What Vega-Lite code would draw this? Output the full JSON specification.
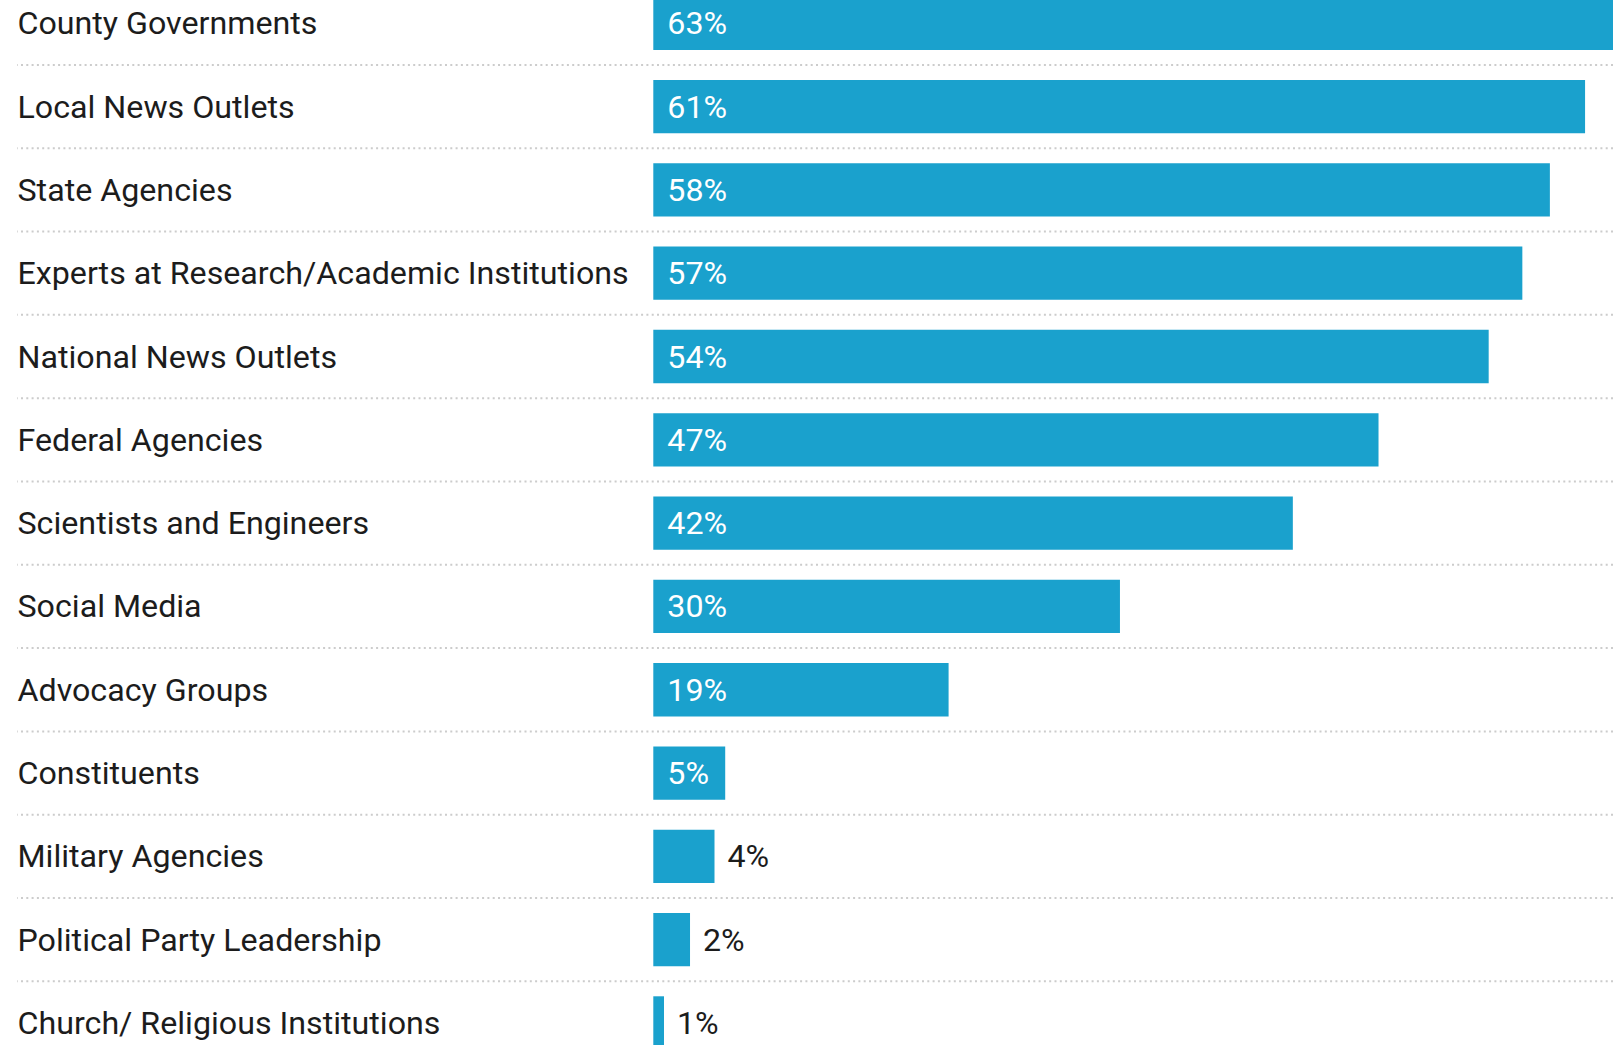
{
  "$schema": "https://vega.github.io/schema/vega-lite/v6.json",
  "autosize": {"type": "none"},
  "padding": {"left": 17, "top": 0, "right": 0, "bottom": 0},
  "width": 1596,
  "height": 1045,
  "background": "white",
  "config": {"view": {"stroke": null}},
  "data": {
    "values": [
      {"source": "County Governments", "pct": 63.0, "label": "63%"},
      {"source": "Local News Outlets", "pct": 60.9, "label": "61%"},
      {"source": "State Agencies", "pct": 58.6, "label": "58%"},
      {"source": "Experts at Research/Academic Institutions", "pct": 56.8, "label": "57%"},
      {"source": "National News Outlets", "pct": 54.6, "label": "54%"},
      {"source": "Federal Agencies", "pct": 47.4, "label": "47%"},
      {"source": "Scientists and Engineers", "pct": 41.8, "label": "42%"},
      {"source": "Social Media", "pct": 30.5, "label": "30%"},
      {"source": "Advocacy Groups", "pct": 19.3, "label": "19%"},
      {"source": "Constituents", "pct": 4.7, "label": "5%"},
      {"source": "Military Agencies", "pct": 4.0, "label": "4%"},
      {"source": "Political Party Leadership", "pct": 2.4, "label": "2%"},
      {"source": "Church/ Religious Institutions", "pct": 0.7, "label": "1%"}
    ]
  },
  "encoding": {
    "y": {
      "field": "source",
      "type": "nominal",
      "sort": null,
      "scale": {"range": [-18.35, 1064.6], "paddingInner": 0.36, "paddingOuter": 0.18},
      "axis": {
        "title": null,
        "domain": false,
        "ticks": false,
        "tickSize": 0,
        "grid": false,
        "labelAlign": "left",
        "labelPadding": 0,
        "labelOffset": 1,
        "labelFont": "Roboto",
        "labelFontSize": 32.2,
        "labelColor": "#1c1c1c",
        "labelLimit": 800
      }
    }
  },
  "layer": [
    {
      "mark": {"type": "rule", "color": "#cccccc", "strokeWidth": 2, "strokeDash": [2, 3.3], "yOffset": 41.65},
      "encoding": {}
    },
    {
      "mark": {"type": "bar", "color": "#1aa1cd"},
      "encoding": {
        "x": {"field": "pct", "type": "quantitative", "scale": {"domain": [0, 100], "range": [636.3, 2166.3], "zero": true}, "axis": null}
      }
    },
    {
      "transform": [{"filter": "datum.pct >= 4.5"}],
      "mark": {"type": "text", "align": "left", "baseline": "middle", "dx": 14, "dy": 1, "font": "Roboto", "fontSize": 32.2, "color": "white"},
      "encoding": {
        "x": {"datum": 0, "type": "quantitative"},
        "text": {"field": "label"}
      }
    },
    {
      "transform": [{"filter": "datum.pct < 4.5"}],
      "mark": {"type": "text", "align": "left", "baseline": "middle", "dx": 13, "dy": 1, "font": "Roboto", "fontSize": 32.2, "color": "#1c1c1c"},
      "encoding": {
        "x": {"field": "pct", "type": "quantitative"},
        "text": {"field": "label"}
      }
    }
  ]
}
